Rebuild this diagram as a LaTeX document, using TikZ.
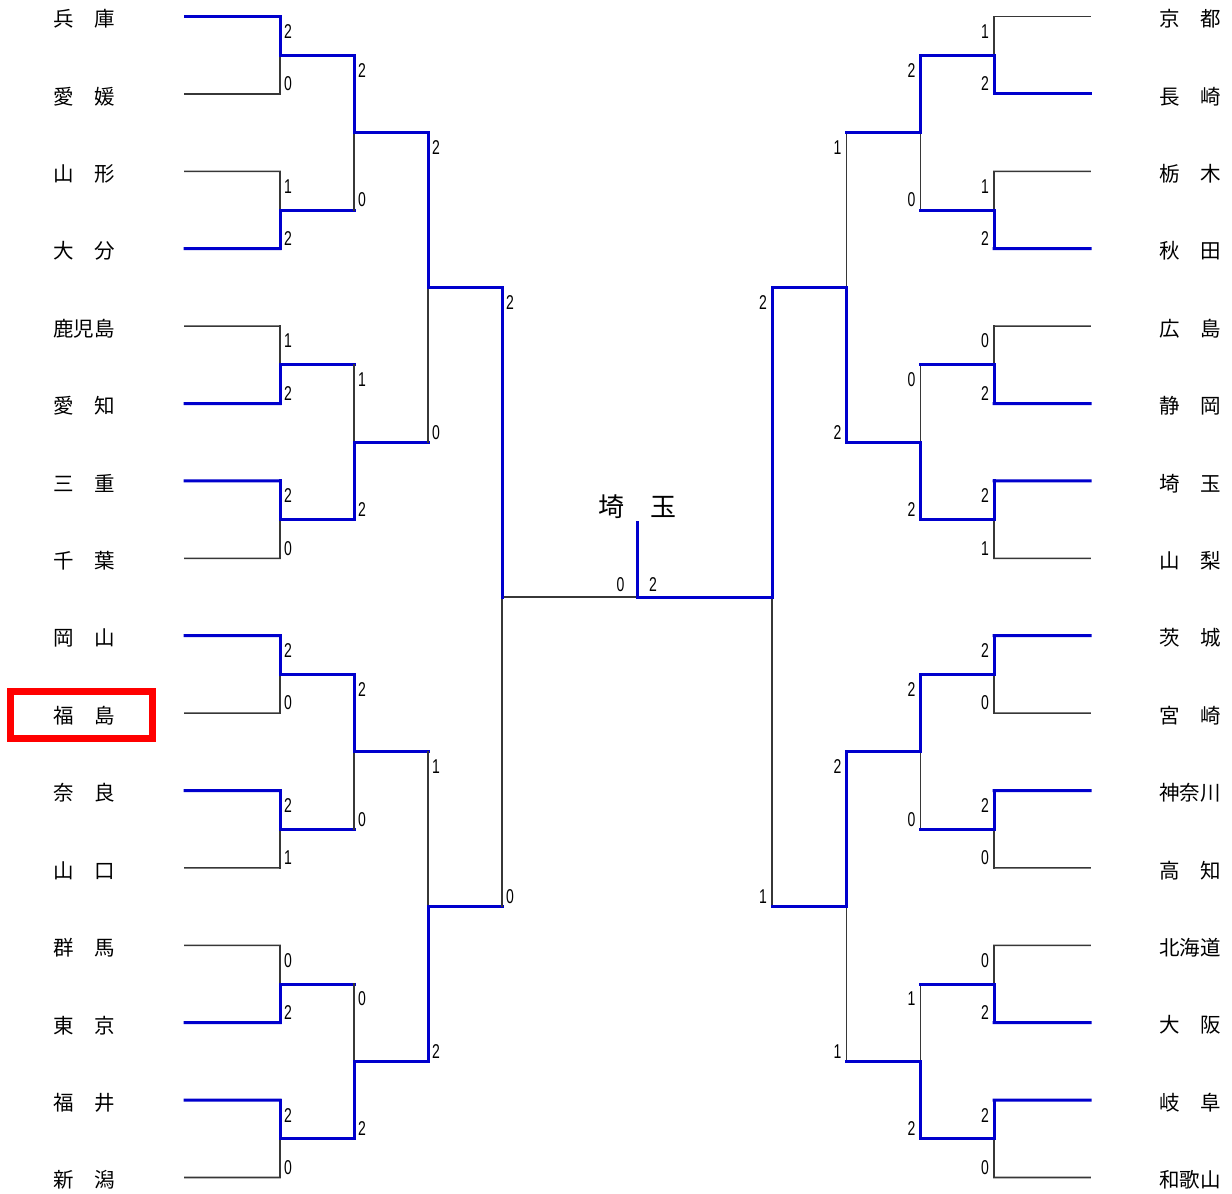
\documentclass[tikz,border=0pt]{standalone}
\usepackage{fontspec}
\setmainfont{Noto Sans CJK JP}
\newfontfamily\numfont[FakeStretch=0.7]{Liberation Sans}
\usetikzlibrary{calc}
\pgfdeclarelayer{back}
\pgfsetlayers{back,main}
\definecolor{winblue}{RGB}{0,0,205}
\definecolor{losegray}{RGB}{55,55,55}
\tikzset{
  win/.style={draw=winblue,line width=3pt,line cap=rect},
  lose/.style={draw=losegray,line width=1.6pt,line cap=rect},
  team/.style={font=\fontsize{20.5}{21}\selectfont,inner sep=0pt},
  score/.style={font=\numfont\fontsize{20}{20}\selectfont,inner sep=0pt},
  champ/.style={font=\fontsize{26}{26}\selectfont,inner sep=0pt},
  hilite/.style={draw=red,line width=7pt,inner sep=0pt},
}
% #1 name, #2 x, #3 ytop, #4 ybot, #5 winner t/b, #6 top score, #7 bottom score, #8 next x, #9 exit style
\newcommand\Lmatch[9]{%
  \coordinate (#1t) at (#2,#3);
  \coordinate (#1b) at (#2,#4);
  \coordinate (#1m) at (#2,{(#3+#4)/2});
  \coordinate (#1o) at (#8,{(#3+#4)/2});
  \if#5t
    \begin{pgfonlayer}{back}\draw[lose] (#1b) -- (#1m);\end{pgfonlayer}
    \draw[win] (#1t) -- (#1m);
  \else
    \begin{pgfonlayer}{back}\draw[lose] (#1t) -- (#1m);\end{pgfonlayer}
    \draw[win] (#1b) -- (#1m);
  \fi
  \begin{pgfonlayer}{back}\draw[#9] (#1m) -- (#1o);\end{pgfonlayer}
  \node[score,anchor=west] (#1st) at ($(#1t)+(4,15)$) {#6};
  \node[score,anchor=west] (#1sb) at ($(#1b)+(4,-10)$) {#7};
}
\newcommand\Rmatch[9]{%
  \coordinate (#1t) at (#2,#3);
  \coordinate (#1b) at (#2,#4);
  \coordinate (#1m) at (#2,{(#3+#4)/2});
  \coordinate (#1o) at (#8,{(#3+#4)/2});
  \if#5t
    \begin{pgfonlayer}{back}\draw[lose] (#1b) -- (#1m);\end{pgfonlayer}
    \draw[win] (#1t) -- (#1m);
  \else
    \begin{pgfonlayer}{back}\draw[lose] (#1t) -- (#1m);\end{pgfonlayer}
    \draw[win] (#1b) -- (#1m);
  \fi
  \draw[#9] (#1m) -- (#1o);
  \node[score,anchor=east] (#1st) at ($(#1t)+(-5,15)$) {#6};
  \node[score,anchor=east] (#1sb) at ($(#1b)+(-5,-10)$) {#7};
}
\begin{document}
\begin{tikzpicture}[x=1pt,y=-1pt]
\useasboundingbox (0,0) rectangle (1232,1194);
% team line ends
\foreach \i in {1,...,16}{
  \pgfmathsetmacro\yy{16.5+(\i-1)*77.4}
  \coordinate (LT\i) at (185,\yy);
  \coordinate (RT\i) at (1090,\yy);
}
% left team names
\node[team] (L1) at (84,19) {兵　庫};
\node[team] (L2) at (84,96.4) {愛　媛};
\node[team] (L3) at (84,173.8) {山　形};
\node[team] (L4) at (84,251.2) {大　分};
\node[team] (L5) at (84,328.6) {鹿児島};
\node[team] (L6) at (84,406) {愛　知};
\node[team] (L7) at (84,483.4) {三　重};
\node[team] (L8) at (84,560.8) {千　葉};
\node[team] (L9) at (84,638.2) {岡　山};
\node[team] (L10) at (84,715.6) {福　島};
\node[team] (L11) at (84,793) {奈　良};
\node[team] (L12) at (84,870.4) {山　口};
\node[team] (L13) at (84,947.8) {群　馬};
\node[team] (L14) at (84,1025.2) {東　京};
\node[team] (L15) at (84,1102.6) {福　井};
\node[team] (L16) at (84,1180) {新　潟};
% right team names
\node[team] (R1) at (1190,19) {京　都};
\node[team] (R2) at (1190,96.4) {長　崎};
\node[team] (R3) at (1190,173.8) {栃　木};
\node[team] (R4) at (1190,251.2) {秋　田};
\node[team] (R5) at (1190,328.6) {広　島};
\node[team] (R6) at (1190,406) {静　岡};
\node[team] (R7) at (1190,483.4) {埼　玉};
\node[team] (R8) at (1190,560.8) {山　梨};
\node[team] (R9) at (1190,638.2) {茨　城};
\node[team] (R10) at (1190,715.6) {宮　崎};
\node[team] (R11) at (1190,793) {神奈川};
\node[team] (R12) at (1190,870.4) {高　知};
\node[team] (R13) at (1190,947.8) {北海道};
\node[team] (R14) at (1190,1025.2) {大　阪};
\node[team] (R15) at (1190,1102.6) {岐　阜};
\node[team] (R16) at (1190,1180) {和歌山};
\node[hilite,minimum width=142pt,minimum height=47pt] (hl) at (81.5,715) {};
% left round 1
\Lmatch{LA1}{280}{16.5}{93.9}{t}{2}{0}{354}{win}
\Lmatch{LA2}{280}{171.3}{248.7}{b}{1}{2}{354}{win}
\Lmatch{LA3}{280}{326.1}{403.5}{b}{1}{2}{354}{win}
\Lmatch{LA4}{280}{480.9}{558.3}{t}{2}{0}{354}{win}
\Lmatch{LA5}{280}{635.7}{713.1}{t}{2}{0}{354}{win}
\Lmatch{LA6}{280}{790.5}{867.9}{t}{2}{1}{354}{win}
\Lmatch{LA7}{280}{945.3}{1022.7}{b}{0}{2}{354}{win}
\Lmatch{LA8}{280}{1100.1}{1177.5}{t}{2}{0}{354}{win}
% left round 2
\Lmatch{LB1}{354}{55.2}{210.0}{t}{2}{0}{428}{win}
\Lmatch{LB2}{354}{364.8}{519.6}{b}{1}{2}{428}{win}
\Lmatch{LB3}{354}{674.4}{829.2}{t}{2}{0}{428}{win}
\Lmatch{LB4}{354}{984.0}{1138.8}{b}{0}{2}{428}{win}
% left round 3
\Lmatch{LC1}{428}{132.6}{442.2}{t}{2}{0}{502}{win}
\Lmatch{LC2}{428}{751.8}{1061.4}{b}{1}{2}{502}{win}
% left semi
\Lmatch{LD1}{502}{287.4}{906.6}{t}{2}{0}{637}{lose}
% right round 1
\Rmatch{RA1}{994}{16.5}{93.9}{b}{1}{2}{920.5}{win}
\Rmatch{RA2}{994}{171.3}{248.7}{b}{1}{2}{920.5}{win}
\Rmatch{RA3}{994}{326.1}{403.5}{b}{0}{2}{920.5}{win}
\Rmatch{RA4}{994}{480.9}{558.3}{t}{2}{1}{920.5}{win}
\Rmatch{RA5}{994}{635.7}{713.1}{t}{2}{0}{920.5}{win}
\Rmatch{RA6}{994}{790.5}{867.9}{t}{2}{0}{920.5}{win}
\Rmatch{RA7}{994}{945.3}{1022.7}{b}{0}{2}{920.5}{win}
\Rmatch{RA8}{994}{1100.1}{1177.5}{t}{2}{0}{920.5}{win}
% right round 2
\Rmatch{RB1}{920.5}{55.2}{210.0}{t}{2}{0}{846.5}{win}
\Rmatch{RB2}{920.5}{364.8}{519.6}{b}{0}{2}{846.5}{win}
\Rmatch{RB3}{920.5}{674.4}{829.2}{t}{2}{0}{846.5}{win}
\Rmatch{RB4}{920.5}{984.0}{1138.8}{b}{1}{2}{846.5}{win}
% right round 3
\Rmatch{RC1}{846.5}{132.6}{442.2}{b}{1}{2}{772}{win}
\Rmatch{RC2}{846.5}{751.8}{1061.4}{t}{2}{1}{772}{win}
% right semi
\Rmatch{RD1}{772}{287.4}{906.6}{t}{2}{1}{637}{win}
% entry lines left
\draw[win] (LT1) -- (LA1t);
\begin{pgfonlayer}{back}
\draw[lose] (LT2) -- (LA1b);
\draw[lose] (LT3) -- (LA2t);
\draw[lose] (LT5) -- (LA3t);
\draw[lose] (LT8) -- (LA4b);
\draw[lose] (LT10) -- (LA5b);
\draw[lose] (LT12) -- (LA6b);
\draw[lose] (LT13) -- (LA7t);
\draw[lose] (LT16) -- (LA8b);
\draw[lose] (RT1) -- (RA1t);
\draw[lose] (RT3) -- (RA2t);
\draw[lose] (RT5) -- (RA3t);
\draw[lose] (RT8) -- (RA4b);
\draw[lose] (RT10) -- (RA5b);
\draw[lose] (RT12) -- (RA6b);
\draw[lose] (RT13) -- (RA7t);
\draw[lose] (RT16) -- (RA8b);
\end{pgfonlayer}
\draw[win] (LT4) -- (LA2b);
\draw[win] (LT6) -- (LA3b);
\draw[win] (LT7) -- (LA4t);
\draw[win] (LT9) -- (LA5t);
\draw[win] (LT11) -- (LA6t);
\draw[win] (LT14) -- (LA7b);
\draw[win] (LT15) -- (LA8t);
% entry lines right
\draw[win] (RT2) -- (RA1b);
\draw[win] (RT4) -- (RA2b);
\draw[win] (RT6) -- (RA3b);
\draw[win] (RT7) -- (RA4t);
\draw[win] (RT9) -- (RA5t);
\draw[win] (RT11) -- (RA6t);
\draw[win] (RT14) -- (RA7b);
\draw[win] (RT15) -- (RA8t);
% final
\coordinate (F) at (637,597);
\coordinate (Ftop) at (637,520.5);
\draw[win,line cap=butt] (F) -- (Ftop);
\node[score] (fs1) at (620.5,584.5) {0};
\node[score] (fs2) at (653,584.5) {2};
\node[champ] (champ) at (637,507) {埼　玉};
\end{tikzpicture}
\end{document}
